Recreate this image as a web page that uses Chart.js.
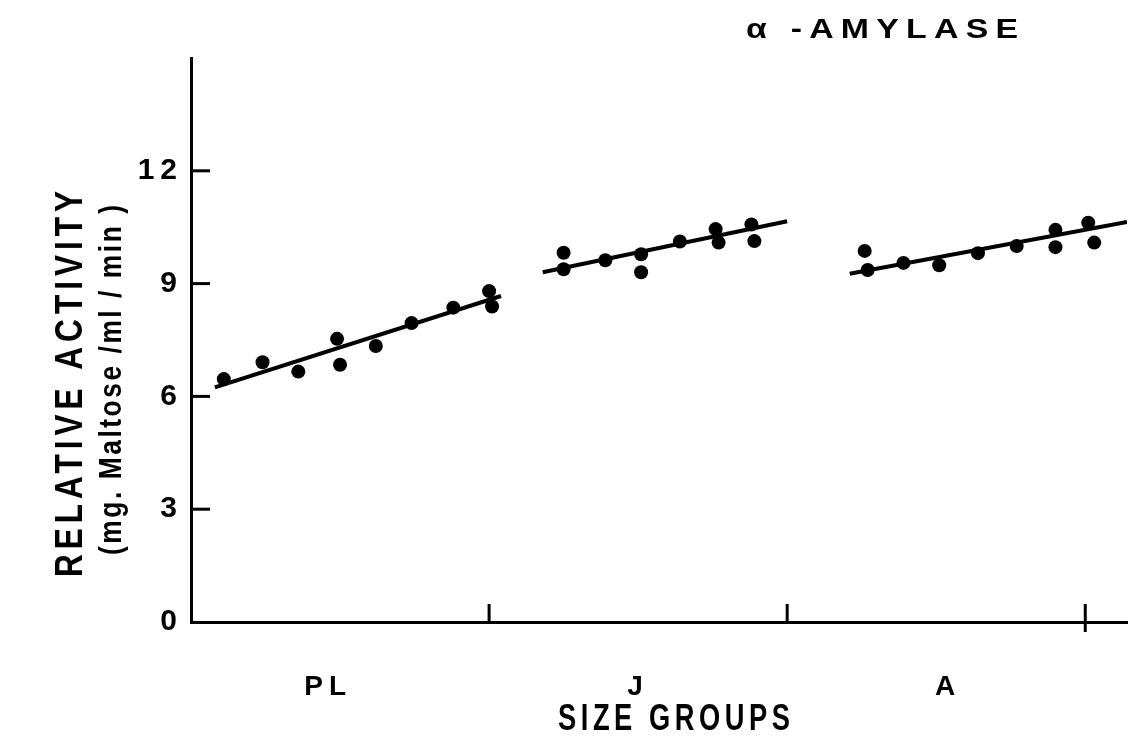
<!DOCTYPE html>
<html>
<head>
<meta charset="utf-8">
<script src="https://cdn.jsdelivr.net/npm/chart.js@4.4.0/dist/chart.umd.min.js"></script>
<style>
  html, body { margin: 0; padding: 0; background: #fff; }
  canvas { display: block; }
</style>
</head>
<body>
<canvas id="grafico" width="1134" height="739"></canvas>
<script>
// categorias e marcas do eixo
const groupLabels = ["PL", "J", "A"];
const groupLabelPos = [0.46, 1.5, 2.54];
const groupTicks = [1, 2, 3];
const yTicks = [0, 3, 6, 9, 12];

// pontos
const plX = [0.11, 0.24, 0.36, 0.49, 0.50, 0.62, 0.74, 0.88, 1.00, 1.01];
const plY = [6.46, 6.91, 6.66, 7.53, 6.84, 7.34, 7.95, 8.36, 8.80, 8.39];
const jX = [1.25, 1.25, 1.39, 1.51, 1.51, 1.64, 1.76, 1.77, 1.88, 1.89];
const jY = [9.82, 9.38, 9.62, 9.78, 9.30, 10.12, 10.45, 10.09, 10.57, 10.13];
const aX = [2.26, 2.27, 2.39, 2.51, 2.64, 2.77, 2.90, 2.90, 3.01, 3.03];
const aY = [9.87, 9.36, 9.55, 9.49, 9.81, 10.00, 10.43, 9.97, 10.62, 10.09];

// retas de regressao (inicio e fim)
const plLineX = [0.08, 1.04];
const plLineY = [6.24, 8.67];
const jLineX = [1.18, 2.0];
const jLineY = [9.30, 10.66];
const aLineX = [2.21, 3.14];
const aLineY = [9.26, 10.64];

const fonte = "'Liberation Sans', Arial, sans-serif";

function pares(xs, ys) {
  return xs.map(function (x, i) {
    return { x: x, y: ys[i] };
  });
}

// texto com espacamento e largura final
function texto(c, t, x, y, fnt, esp, largura, rot) {
  c.save();
  c.font = fnt + " " + fonte;
  c.letterSpacing = esp + "px";
  const w = c.measureText(t).width - esp;
  c.translate(x, y);
  if (rot) c.rotate(rot);
  c.scale(largura / w, 1);
  c.textAlign = "left";
  c.textBaseline = "middle";
  c.fillText(t, -w / 2, 0);
  c.restore();
}

const ctx = document.getElementById("grafico");

const marcas = {
  id: "marcas",
  beforeDraw(chart) {
    chart.ctx.letterSpacing = "6px";
  },
  afterDraw(chart) {
    const c = chart.ctx;
    const sx = chart.scales.x;
    const sy = chart.scales.y;
    const area = chart.chartArea;
    c.save();
    c.strokeStyle = "#000";
    c.lineWidth = 3;
    yTicks.forEach(function (v) {
      if (v === 0) return;
      const py = sy.getPixelForValue(v);
      c.beginPath();
      c.moveTo(area.left, py);
      c.lineTo(area.left + 19, py);
      c.stroke();
    });
    groupTicks.forEach(function (v, i) {
      const px = sx.getPixelForValue(v);
      c.beginPath();
      c.moveTo(px, area.bottom - 18);
      c.lineTo(px, area.bottom + (i === groupTicks.length - 1 ? 10 : 0));
      c.stroke();
    });
    c.fillStyle = "#000";
    texto(c, "SIZE GROUPS", 674, 720, "bold 36px", 6, 232);
    texto(c, "\u03b1 -AMYLASE", 882, 30, "bold 28px", 6, 272);
    texto(c, "RELATIVE ACTIVITY", 72, 384, "bold 38px", 6, 386, -Math.PI / 2);
    texto(c, "(mg. Maltose /ml / min )", 112, 380, "bold 31px", 3, 350, -Math.PI / 2);
    c.restore();
  },
};

const chart = new Chart(ctx, {
  type: "scatter",
  data: {
    datasets: [
      { type: "line", data: pares(plLineX, plLineY), borderColor: "#000", borderWidth: 4, pointRadius: 0 },
      { type: "line", data: pares(jLineX, jLineY), borderColor: "#000", borderWidth: 4, pointRadius: 0 },
      { type: "line", data: pares(aLineX, aLineY), borderColor: "#000", borderWidth: 4, pointRadius: 0 },
      { data: pares(plX, plY), backgroundColor: "#000", borderWidth: 0, pointRadius: 7 },
      { data: pares(jX, jY), backgroundColor: "#000", borderWidth: 0, pointRadius: 7 },
      { data: pares(aX, aY), backgroundColor: "#000", borderWidth: 0, pointRadius: 7 },
    ],
  },
  options: {
    responsive: false,
    animation: false,
    layout: { padding: { top: 58, right: 0, bottom: 0, left: 0 } },
    scales: {
      x: {
        type: "linear",
        min: 0,
        max: 3.14,
        afterBuildTicks: function (s) {
          s.ticks = groupLabelPos.map(function (v) { return { value: v }; });
        },
        afterFit: function (s) {
          s.height = 117;
        },
        grid: { display: false, drawTicks: false },
        border: { color: "#000", width: 3 },
        ticks: {
          color: "#000",
          font: { size: 28, family: fonte, weight: "bold" },
          padding: 48,
          autoSkip: false,
          maxRotation: 0,
          callback: function (val, i) {
            return groupLabels[i];
          },
        },
      },
      y: {
        min: 0,
        max: 15,
        afterBuildTicks: function (s) {
          s.ticks = yTicks.map(function (v) { return { value: v }; });
        },
        afterFit: function (s) {
          s.width = 191;
        },
        grid: { display: false, drawTicks: false },
        border: { color: "#000", width: 3 },
        ticks: {
          color: "#000",
          font: { size: 30, family: fonte, weight: "bold" },
          padding: 8,
        },
      },
    },
    plugins: {
      legend: { display: false },
      tooltip: { enabled: false },
    },
  },
  plugins: [marcas],
});
</script>
</body>
</html>
